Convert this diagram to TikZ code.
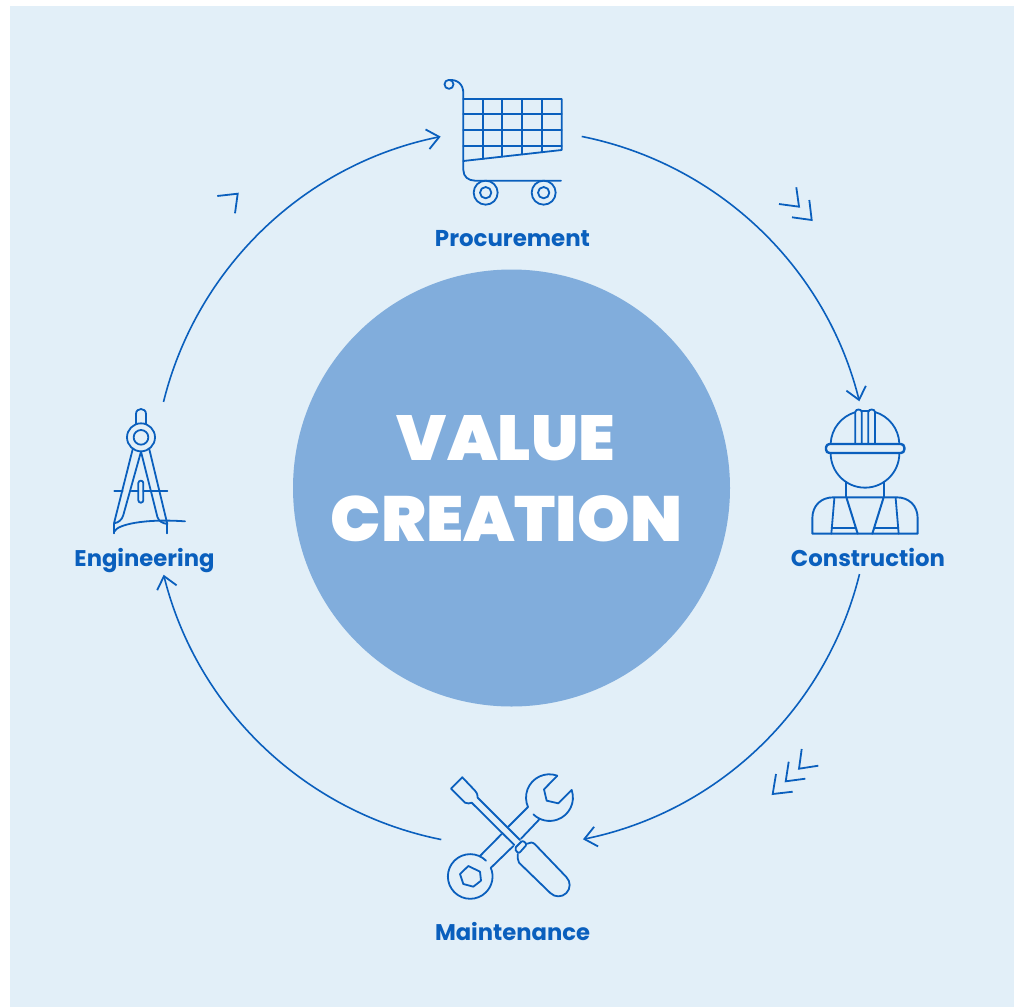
\documentclass[tikz,border=0pt]{standalone}
\usepackage{fontspec}
\setmainfont{Poppins}[BoldFont={Poppins Bold}]
\usetikzlibrary{arrows.meta,calc}
\definecolor{panel}{HTML}{E2EFF8}
\definecolor{disc}{HTML}{81ADDC}
\definecolor{ink}{HTML}{0A5FBD}
\newcommand{\steptext}[2]{\resizebox{#1}{!}{\bfseries #2}}
\tikzset{
  cycleline/.style={draw=ink,line width=1.6pt,-{Straight Barb[length=12pt,width=20pt,line width=1.8pt]}},
  icon/.style={draw=ink,line width=1.8pt,line join=round,line cap=round},
  chevron/.style={draw=ink,line width=1.8pt,line join=miter},
  steplabel/.style={text=ink,inner sep=0pt,anchor=base},
  bigword/.style={text=white,inner sep=0pt,anchor=center}
}
\begin{document}
\begin{tikzpicture}[x=1pt,y=-1pt]
\useasboundingbox (0,0) rectangle (1014,1007);
\fill[white] (0,0) rectangle (1014,1007);
\fill[panel] (10,6) rectangle (1014,1007);
\fill[disc] (511.5,488) circle[radius=218.5];
\node[bigword] (value) at (506,438) {\resizebox{218pt}{45pt}{\fontspec{Poppins Black}VALUE}};
\node[bigword] (creation) at (506.5,519) {\resizebox{351pt}{46pt}{\fontspec{Poppins Black}CREATION}};
\node[steplabel] (procurement) at (512.5,246) {\steptext{155pt}{Procurement}};
\node[steplabel] (construction) at (868,566) {\steptext{154pt}{Construction}};
\node[steplabel] (maintenance) at (512.5,940) {\steptext{155pt}{Maintenance}};
\node[steplabel] (engineering) at (144.5,566) {\steptext{140pt}{Engineering}};
% cycle
\coordinate (hub) at (511.5,488);
\coordinate (pout) at ($(hub)+(-78.7:358.5)$);
\coordinate (cout) at ($(hub)+(13.9:358.5)$);
\coordinate (mout) at ($(hub)+(101.3:358.5)$);
\coordinate (eout) at ($(hub)+(193.9:358.5)$);
\draw[cycleline] (pout) arc[start angle=-78.7,end angle=-14,radius=358.5];
\draw[cycleline] (cout) arc[start angle=13.9,end angle=78.5,radius=358.5];
\draw[cycleline] (mout) arc[start angle=101.3,end angle=166,radius=358.5];
\draw[cycleline] (eout) arc[start angle=193.9,end angle=258.6,radius=358.5];
% chevrons
\draw[chevron] (779,204) -- (799,206.7) -- (796.3,187.3);
\draw[chevron] (792,217.3) -- (811.7,220) -- (809.3,200);
\draw[chevron] (801.7,749) -- (799,768.7) -- (818.3,765.7);
\draw[chevron] (788.7,761.7) -- (785.7,781.3) -- (805.3,778.7);
\draw[chevron] (776,774) -- (772.7,794) -- (792.7,791.7);
\draw[chevron] (217.3,196) -- (237.7,193.7) -- (235,213.3);
% cart
\begin{scope}[shift={(420,60)},x=0.33333pt,y=-0.33333pt,icon]
\draw (87,73) circle[radius=13.5];
\draw (87,60) .. controls (112,58) and (130,72) .. (130,100) -- (130,330) .. controls (130,350) and (145,362) .. (165,362) -- (423,362);
\draw (130,117) -- (425,117) -- (425,270) -- (130,303);
\draw (130,163) -- (425,163);
\draw (130,210) -- (425,210);
\draw (130,257) -- (425,257);
\draw (188,117) -- (188,297);
\draw (247,117) -- (247,290);
\draw (306,117) -- (306,283);
\draw (365,117) -- (365,277);
\draw (197,398) circle[radius=36] (197,398) circle[radius=17];
\draw (371,398) circle[radius=36] (371,398) circle[radius=17];
\end{scope}
% worker
\begin{scope}[shift={(780,390)},x=0.33333pt,y=-0.33333pt,icon]
\draw (152,160) arc[start angle=183,end angle=253.6,radius=103];
\draw (285,66) arc[start angle=286.9,end angle=357,radius=103];
\draw (226,160) -- (226,66) .. controls (226,56) and (245,56) .. (245,66) -- (245,160);
\draw (265,160) -- (265,66) .. controls (265,56) and (285,56) .. (285,66) -- (285,160);
\draw (245,64) -- (265,64);
\draw[line width=2.4pt,rounded corners=3.5pt] (138,162) rectangle (373,189);
\draw (152,190) arc[start angle=180,end angle=0,radius=103];
\draw (198,275) -- (198,322) (312,275) -- (312,322);
\draw[line width=1.9pt] (97,431) -- (97,385) .. controls (97,345) and (125,322) .. (160,322) -- (350,322) .. controls (385,322) and (413,345) .. (413,385) -- (413,431) -- cycle;
\draw (163,325) -- (154,431) (347,325) -- (356,431);
\draw[line width=2pt] (200,325) -- (233,431) (310,325) -- (277,431);
\draw (155,413) -- (225,413) (285,413) -- (355,413);
\end{scope}
% tools
\begin{scope}[shift={(420,760)},x=0.33333pt,y=-0.33333pt,icon]
\draw (412,47) arc[start angle=-70,end angle=-204,radius=70];
\draw (412,47) -- (372,88) -- (380,122) -- (415,130) -- (455,90);
\draw (455,90) arc[start angle=-19,end angle=134,radius=70];
\draw (323,142) -- (265,200) (245,222) -- (180,288);
\draw (358,178) -- (303,236) (280,258) -- (213,323);
\draw (198,302) arc[start angle=-45,end angle=-383,radius=67];
\draw (145,318) -- (180,335) -- (183,362) -- (160,380) -- (130,372) -- (120,342) -- cycle;
\draw (127,52) -- (93,86) -- (135,128) .. controls (142,132) and (150,130) .. (155,128) -- (283,255);
\draw (127,52) -- (165,92) .. controls (172,100) and (173,106) .. (173,113) -- (300,240);
\draw[rounded corners=2pt] (283,266) -- (308,241) -- (321,253) -- (296,281) -- cycle;
\draw (322,251) .. controls (330,246) and (338,246) .. (345,253) -- (439,351) arc[start angle=-45,end angle=135,radius=34] -- (297,308) .. controls (293,300) and (292,290) .. (293,282);
\end{scope}
% compass
\begin{scope}[shift={(60,390)},x=0.33333pt,y=-0.33333pt,icon]
\draw (228,102) -- (228,72) .. controls (228,52) and (258,52) .. (258,72) -- (258,102);
\draw (243,142) circle[radius=42] (243,142) circle[radius=22];
\draw (218,178) -- (162,400) .. controls (175,398) and (186,390) .. (190,375) -- (243,185) -- (292,380) .. controls (296,392) and (305,400) .. (322,402) -- (268,178);
\draw (162,402) -- (162,430) (322,402) -- (322,430);
\draw (164,424) .. controls (170,405) and (250,385) .. (375,394);
\draw (163,303) -- (188,303) (215,303) -- (235,303) (250,303) -- (322,303);
\draw[rounded corners=2.4pt] (235,272) rectangle (250,338);
\end{scope}
\end{tikzpicture}
\end{document}
